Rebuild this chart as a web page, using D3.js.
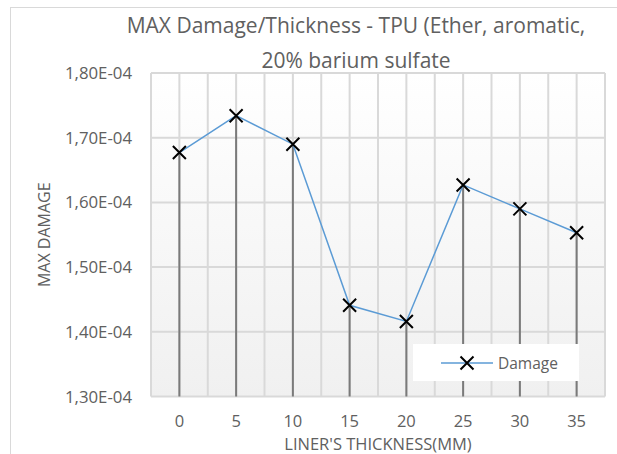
<!DOCTYPE html>
<html>
<head>
<meta charset="utf-8">
<style>
html, body { margin: 0; padding: 0; background: #fff; }
text { font-family: 'Open Sans', sans-serif; fill: #606060; }
.grid { stroke: #d9d9d9; stroke-width: 2; }
.drop { stroke: #7a7a7a; stroke-width: 2; }
.series { fill: none; stroke: #5b9bd5; stroke-width: 1.5; }
.marker { stroke: #000; stroke-width: 2; }
</style>
</head>
<body>
<script src="https://cdn.jsdelivr.net/npm/d3@7"></script>
<script>
var thickness = ['0', '5', '10', '15', '20', '25', '30', '35']
var damage = [1.677e-4, 1.734e-4, 1.690e-4, 1.441e-4, 1.416e-4, 1.627e-4, 1.590e-4, 1.553e-4]
var yTicks = [1.3e-4, 1.4e-4, 1.5e-4, 1.6e-4, 1.7e-4, 1.8e-4]
var titleLines = ['MAX Damage/Thickness - TPU (Ether, aromatic,', '20% barium sulfate']

var width = 617
var height = 454

var svg = d3.select('body').append('svg')
    .attr('width', width)
    .attr('height', height)

// chart area border (runs off the right and bottom edge)
svg.append('rect')
    .attr('x', 10.5).attr('y', 7.5)
    .attr('width', 700).attr('height', 600)
    .attr('fill', '#fff')
    .attr('stroke', '#d9d9d9')

var x = d3.scaleBand().domain(thickness).range([151, 605])
var y = d3.scaleLinear().domain([1.3e-4, 1.8e-4]).range([396.5, 73])
var half = x.bandwidth() / 2

var grad = svg.append('defs').append('linearGradient')
    .attr('id', 'bg').attr('x1', 0).attr('y1', 0).attr('x2', 0).attr('y2', 1)
grad.append('stop').attr('offset', '0%').attr('stop-color', '#ffffff')
grad.append('stop').attr('offset', '100%').attr('stop-color', '#f0f0f0')

svg.append('rect')
    .attr('x', x.range()[0]).attr('y', y(1.8e-4))
    .attr('width', x.range()[1] - x.range()[0])
    .attr('height', y(1.3e-4) - y(1.8e-4))
    .attr('fill', 'url(#bg)')

// vertical gridlines at every half category
var vx = []
thickness.forEach(function (c) { vx.push(x(c), x(c) + half) })
vx.push(x.range()[1])

svg.append('g').selectAll('line')
    .data(vx)
    .enter().append('line')
    .attr('class', 'grid')
    .attr('x1', function (d) { return d }).attr('x2', function (d) { return d })
    .attr('y1', y(1.8e-4)).attr('y2', y(1.3e-4))

svg.append('g').selectAll('line')
    .data(yTicks)
    .enter().append('line')
    .attr('class', 'grid')
    .attr('x1', x.range()[0]).attr('x2', x.range()[1])
    .attr('y1', function (d) { return y(d) }).attr('y2', function (d) { return y(d) })

function fmt(v) {
    return (v / 1e-4).toFixed(2).replace('.', ',') + 'E-04'
}

svg.append('g').selectAll('text')
    .data(yTicks)
    .enter().append('text')
    .attr('x', 132)
    .attr('y', function (d) { return y(d) })
    .attr('dy', '0.36em')
    .attr('text-anchor', 'end')
    .style('font-size', '16.8px')
    .text(fmt)

svg.append('g').selectAll('text')
    .data(thickness)
    .enter().append('text')
    .attr('x', function (d) { return x(d) + half })
    .attr('y', 427)
    .attr('text-anchor', 'middle')
    .style('font-size', '16.5px')
    .text(function (d) { return d })

var pts = thickness.map(function (c, i) { return { c: c, v: damage[i] } })

// drop lines
svg.append('g').selectAll('line')
    .data(pts)
    .enter().append('line')
    .attr('class', 'drop')
    .attr('x1', function (d) { return x(d.c) + half })
    .attr('x2', function (d) { return x(d.c) + half })
    .attr('y1', function (d) { return y(d.v) })
    .attr('y2', y(1.3e-4))

var line = d3.line()
    .x(function (d) { return x(d.c) + half })
    .y(function (d) { return y(d.v) })

svg.append('path')
    .datum(pts)
    .attr('class', 'series')
    .attr('d', line)

function cross(g, cx, cy) {
    var r = 6.5
    g.append('path')
        .attr('class', 'marker')
        .attr('d', 'M' + (cx - r) + ',' + (cy - r) + 'L' + (cx + r) + ',' + (cy + r) +
            'M' + (cx - r) + ',' + (cy + r) + 'L' + (cx + r) + ',' + (cy - r))
}

var mk = svg.append('g')
pts.forEach(function (d) { cross(mk, x(d.c) + half, y(d.v)) })

// legend
var lg = svg.append('g')
lg.append('rect')
    .attr('x', 413).attr('y', 344)
    .attr('width', 166).attr('height', 37)
    .attr('fill', '#fff')
lg.append('line')
    .attr('class', 'series')
    .attr('x1', 441).attr('x2', 493)
    .attr('y1', 363).attr('y2', 363)
cross(lg, 467, 363)
lg.append('text')
    .attr('x', 498).attr('y', 363)
    .attr('dy', '0.36em')
    .style('font-size', '15.5px')
    .text('Damage')

// titles
svg.append('g').selectAll('text')
    .data(titleLines)
    .enter().append('text')
    .attr('x', 356)
    .attr('y', function (d, i) { return 33 + i * 35 })
    .attr('text-anchor', 'middle')
    .style('font-size', '21px')
    .text(function (d) { return d })

svg.append('text')
    .attr('x', (x.range()[0] + x.range()[1]) / 2)
    .attr('y', 450)
    .attr('text-anchor', 'middle')
    .style('font-size', '16.5px')
    .text("LINER'S THICKNESS(MM)")

svg.append('text')
    .attr('transform', 'translate(50,' + (y(1.55e-4)) + ') rotate(-90)')
    .attr('text-anchor', 'middle')
    .style('font-size', '16px')
    .text('MAX DAMAGE')
</script>
</body>
</html>
